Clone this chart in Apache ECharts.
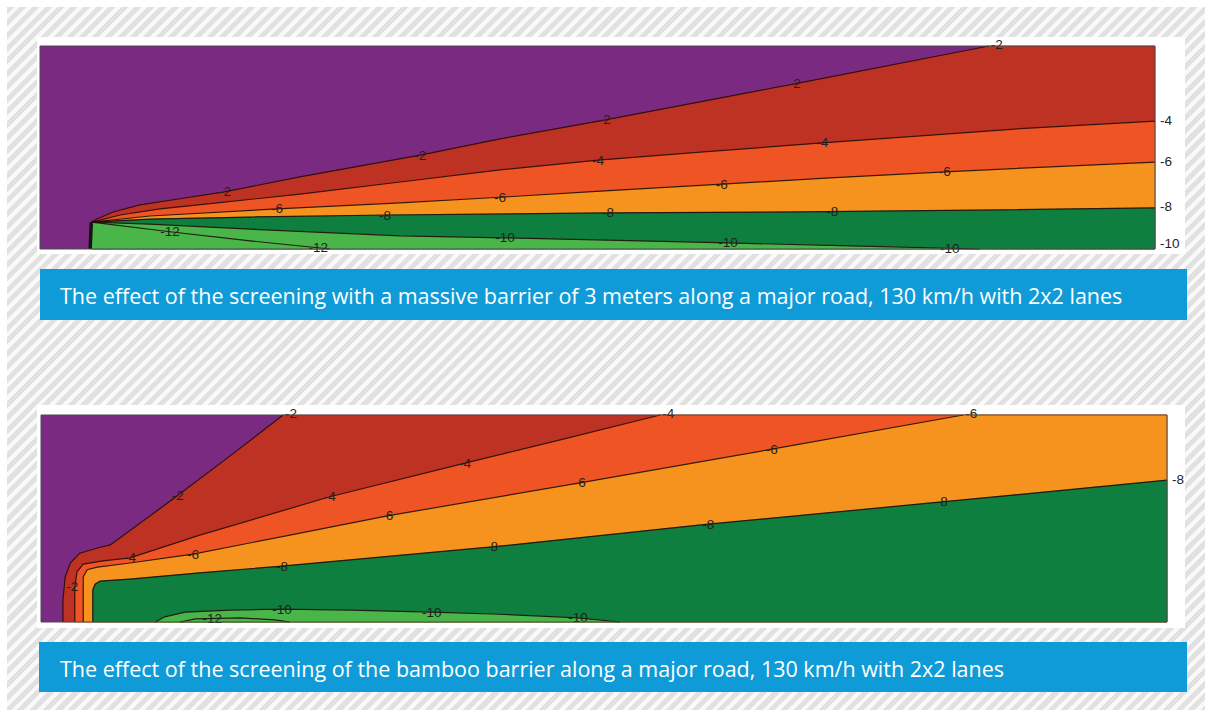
<!DOCTYPE html>
<html>
<head>
<meta charset="utf-8">
<script src="https://cdn.jsdelivr.net/npm/echarts/dist/echarts.min.js"></script>
<style>
  html, body { margin: 0; padding: 0; background: #fff; }
  #frame { position: relative; width: 1210px; height: 715px; background: #fff; overflow: hidden; }
  #hatch { position: absolute; left: 7px; top: 7px; width: 1198px; height: 703px;
           background: repeating-linear-gradient(135deg, #e1e1e1 0 5px, #f9f9f9 5px 9px); }
  #chart { position: absolute; left: 0; top: 0; width: 1210px; height: 715px; }
</style>
</head>
<body>
<div id="frame"><div id="hatch"></div><div id="chart"></div></div>
<script>
// Cross-section behind the road: distance from the road (m) by height above ground (m).
const X_MAX = 200, Y_MAX = 40;

// Insertion-loss levels (dB) and the colour of the zone below each contour.
const levels = [-2, -4, -6, -8, -10, -12];
const bandColors = ['#be3223', '#ef5424', '#f6921e', '#0f7f3f', '#4ab649', '#4ab649'];
const aboveColor = '#7b2a82';

// ---- Massive barrier, 3 m ----
const massiveBarrier = [[9.0, 0], [9.2, 5.3]];
const massiveL2  = [[9.3,5.3],[10.2,5.9],[13.1,7.3],[17.9,8.7],[25.1,9.9],[32.8,11.2],[46.6,14.2],[68.2,18.5],[82.5,21.7],[101.2,25.4],[135.1,32.5],[170.2,40]];
const massiveL4  = [[9.3,5.3],[14.4,6.7],[21.5,7.9],[31.8,9.1],[46.6,10.8],[64.6,13.2],[82.5,15.6],[100.1,17.5],[118.4,19.1],[140.3,20.9],[157.9,22.3],[175.8,23.7],[200,25.2]];
const massiveL6  = [[9.3,5.3],[19.7,6.5],[42.5,7.9],[64.6,9.1],[82.5,10.2],[100.5,11.4],[122.3,12.8],[141.7,14.0],[162.3,15.2],[181.2,16.2],[200,17.1]];
const massiveL8  = [[9.3,5.3],[19.7,5.9],[37.7,6.3],[62.8,6.7],[102.2,7.1],[136.3,7.3],[172.2,7.7],[200,8.1]];
const massiveL10 = [[9.3,5.3],[19.7,4.9],[37.7,3.9],[64.6,2.6],[83.4,2.2],[123.4,1.2],[145.3,0.6],[168.6,0]];
const massiveL12 = [[9.3,5.3],[23.3,3.4],[37.7,1.6],[52.0,0]];
// label positions along each contour (distance, m)
const massiveLabelAt = [[33.2,68.2,101.3,135.4],[100.1,140.3],[42.5,82.5,122.3,162.3],[61.9,101.9,142.1],[83.4,123.4,163.2],[23.3,49.9]];
// extra level tag on the right-hand side: [level, height]
const massiveSideTags = [[-10, 1.0]];

// ---- Bamboo barrier ----
const bambooL2  = [[3.9,0],[3.9,4.3],[4.3,8.7],[5.2,11.4],[6.9,13.3],[10.0,14.3],[12.3,14.9],[23.5,23.8],[33.6,32.1],[43.0,40]];
const bambooL4  = [[6.0,0],[6.0,6.8],[6.4,9.7],[7.5,11.2],[11.0,11.8],[15.8,12.4],[28.2,16.8],[51.3,24.2],[75.3,30.7],[92.2,35.2],[110.0,40]];
const bambooL6  = [[7.5,0],[7.5,8.7],[8.2,10.1],[10.0,10.6],[15.8,11.4],[27.0,13.1],[44.2,16.8],[61.5,20.5],[95.7,26.9],[129.8,33.4],[163.8,40]];
const bambooL8  = [[9.2,0],[9.2,6.2],[9.6,7.3],[10.5,7.9],[15.8,8.3],[28.2,9.5],[42.8,10.8],[80.1,14.5],[118.5,18.9],[160.0,23.2],[200,27.4]];
const bambooL10 = [[20.3,0],[22.0,1.0],[25.6,1.9],[33.6,2.3],[42.8,2.5],[54.9,2.3],[69.5,1.9],[81.5,1.5],[95.4,0.8],[102.8,0]];
const bambooL12 = [[24.7,0],[27.4,0.6],[35.4,0.8],[41.6,0.4],[44.2,0]];
const bambooLabelAt = [[24.3],[15.8,51.3,75.3],[27.0,61.5,95.7,129.8],[42.8,80.1,118.5,160.0],[42.8,69.4,95.4],[30.4]];
// labels placed by height on the near-vertical part of a contour: [level index, height]
const bambooLabelAtHeight = [[0, 6.8]];

const captions = [
  'The effect of the screening with a massive barrier of 3 meters along a major road, 130 km/h with 2x2 lanes',
  'The effect of the screening of the bamboo barrier along a major road, 130 km/h with 2x2 lanes'
];

const LINE = 'rgba(30,10,10,0.88)';
const LABEL_FONT = '13.5px "Liberation Sans", Arial, sans-serif';

// close a contour into the zone that lies below / to the right of it
function closeBelow(pts) {
  const out = pts.slice();
  const first = pts[0], last = pts[pts.length - 1];
  if (last[1] >= Y_MAX) out.push([X_MAX, Y_MAX]);
  if (last[1] > 0) out.push([X_MAX, 0]);
  if (first[1] > 0) out.push([first[0], 0]);
  return out;
}
function yAtX(pts, x) {
  for (let i = 0; i < pts.length - 1; i++) {
    const a = pts[i], b = pts[i + 1];
    if (a[0] === b[0]) continue;
    if ((x - a[0]) * (x - b[0]) <= 0) return a[1] + (b[1] - a[1]) * (x - a[0]) / (b[0] - a[0]);
  }
  return pts[pts.length - 1][1];
}
function xAtY(pts, y) {
  for (let i = 0; i < pts.length - 1; i++) {
    const a = pts[i], b = pts[i + 1];
    if (a[1] === b[1]) continue;
    if ((y - a[1]) * (y - b[1]) <= 0) return a[0] + (b[0] - a[0]) * (y - a[1]) / (b[1] - a[1]);
  }
  return pts[0][0];
}

function panelSeries(idx, lines, barrier, labelAt, labelAtHeight, sideTags) {
  return {
    type: 'custom',
    xAxisIndex: idx, yAxisIndex: idx,
    coordinateSystem: 'cartesian2d',
    data: [[0, 0]],
    silent: true,
    clip: false,
    z: 2,
    renderItem: function (params, api) {
      const c = p => api.coord(p);
      const kids = [];
      const tl = c([0, Y_MAX]), br = c([X_MAX, 0]);
      kids.push({ type: 'rect', shape: { x: tl[0], y: tl[1], width: br[0] - tl[0], height: br[1] - tl[1] },
                  style: { fill: aboveColor } });
      lines.forEach((pts, i) => kids.push({ type: 'polygon', shape: { points: closeBelow(pts).map(c) },
                                           style: { fill: bandColors[i], stroke: bandColors[i], lineWidth: 0.5 } }));
      lines.forEach(pts => kids.push({ type: 'polyline', shape: { points: pts.map(c) },
                                       style: { stroke: LINE, lineWidth: 1.2, fill: null } }));
      if (barrier) {
        kids.push({ type: 'polyline', shape: { points: barrier.map(c) },
                    style: { stroke: '#141414', lineWidth: 3.5, fill: null } });
      }
      const txt = (s, p, align, dx, dy) => kids.push({
        type: 'text', x: p[0] + (dx || 0), y: p[1] + (dy || 0),
        style: { text: s, fill: '#1f1f1f', font: LABEL_FONT, align: align || 'center', verticalAlign: 'middle' }
      });
      lines.forEach((pts, i) => {
        (labelAt[i] || []).forEach(x => txt(String(levels[i]), c([x, yAtX(pts, x)])));
      });
      (labelAtHeight || []).forEach(([i, y]) => txt(String(levels[i]), c([xAtY(lines[i], y), y]), 'center', 8, 0));
      // level tags where a contour leaves the plot
      lines.forEach((pts, i) => {
        const last = pts[pts.length - 1];
        if (last[1] >= Y_MAX) txt(String(levels[i]), c(last), 'left', 2, -2);
        else if (last[0] >= X_MAX) txt(String(levels[i]), c(last), 'left', 5, -1);
      });
      (sideTags || []).forEach(([lv, y]) => txt(String(lv), c([X_MAX, y]), 'left', 5, 0));
      kids.push({ type: 'rect', shape: { x: tl[0], y: tl[1], width: br[0] - tl[0], height: br[1] - tl[1] },
                  style: { fill: null, stroke: '#4a4a4a', lineWidth: 1 } });
      return { type: 'group', children: kids };
    }
  };
}

const axisX = i => ({ type: 'value', gridIndex: i, min: 0, max: X_MAX, show: false });
const axisY = i => ({ type: 'value', gridIndex: i, min: 0, max: Y_MAX, show: false });

const captionBars = [{ top: 269, h: 51, left: 40 }, { top: 642, h: 50, left: 39 }];

const chart = echarts.init(document.getElementById('chart'), null, { renderer: 'svg' });
chart.setOption({
  animation: false,
  backgroundColor: 'transparent',
  grid: [
    { left: 40, top: 46, width: 1115, height: 203, show: false },
    { left: 41, top: 415, width: 1126, height: 207, show: false }
  ],
  xAxis: [axisX(0), axisX(1)],
  yAxis: [axisY(0), axisY(1)],
  graphic: [
    { type: 'rect', z: 0, shape: { x: 37, y: 37, width: 1148, height: 217 }, style: { fill: '#ffffff' } },
    { type: 'rect', z: 0, shape: { x: 37, y: 405, width: 1148, height: 223 }, style: { fill: '#ffffff' } }
  ].concat(captionBars.flatMap((b, i) => [
    { type: 'rect', z: 0, shape: { x: b.left, y: b.top, width: 1187 - b.left, height: b.h }, style: { fill: '#0e9bd8' } },
    { type: 'text', z: 1, x: 60, y: b.top + b.h / 2 + 1,
      style: { text: captions[i], fill: '#ffffff', font: '21.5px "Open Sans", sans-serif', verticalAlign: 'middle' } }
  ])),
  series: [
    panelSeries(0, [massiveL2, massiveL4, massiveL6, massiveL8, massiveL10, massiveL12], massiveBarrier,
                massiveLabelAt, null, massiveSideTags),
    panelSeries(1, [bambooL2, bambooL4, bambooL6, bambooL8, bambooL10, bambooL12], null,
                bambooLabelAt, bambooLabelAtHeight, null)
  ]
});
</script>
</body>
</html>
